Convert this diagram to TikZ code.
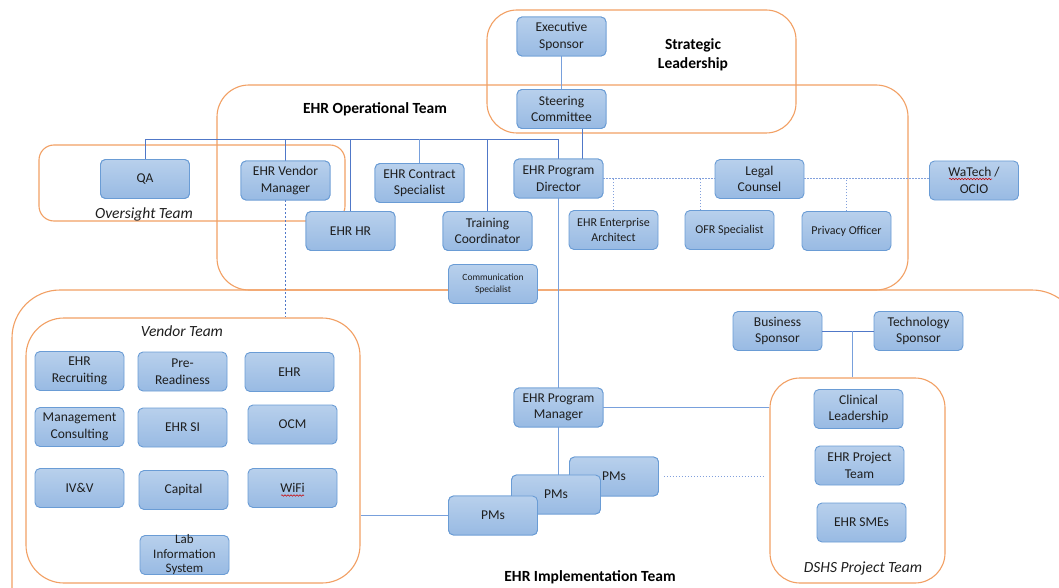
\documentclass[tikz,border=0pt]{standalone}
\usepackage{fontspec}
\setmainfont{Carlito}
\usetikzlibrary{decorations.pathmorphing}
\definecolor{boxtop}{RGB}{184,208,236}
\definecolor{boxbot}{RGB}{152,186,227}
\definecolor{boxline}{RGB}{106,156,213}
\definecolor{orng}{RGB}{242,160,100}
\definecolor{conn}{RGB}{80,120,200}
\definecolor{connl}{RGB}{120,160,220}
\definecolor{dotc}{RGB}{130,160,220}
\definecolor{txt}{RGB}{30,30,30}
\begin{document}
\begin{tikzpicture}[x=1pt,y=-1pt,
  bx/.style={draw=boxline, line width=0.9pt, top color=boxtop, bottom color=boxbot,
    rounded corners=5pt, minimum width=89pt, minimum height=39pt, align=center,
    inner sep=1pt, text=txt, font=\fontsize{13.5}{16.5}\selectfont},
  bxs/.style={bx, font=\fontsize{12}{14.5}\selectfont},
  bxt/.style={bx, font=\fontsize{9.5}{12.5}\selectfont},
  cont/.style={draw=orng, line width=1.1pt, inner sep=0pt},
  solidc/.style={draw=conn, line width=0.9pt},
  solidl/.style={draw=connl, line width=1pt},
  dotl/.style={draw=dotc, line width=1pt, dash pattern=on 1.5pt off 1.5pt},
  dashl/.style={draw=conn, line width=0.8pt, dash pattern=on 2pt off 2pt},
  blab/.style={font=\fontsize{15.5}{19}\selectfont\bfseries, align=center, text=black},
  ilab/.style={font=\fontsize{15.5}{18}\selectfont\itshape, text=txt},
  squig/.style={draw=red!80!black, line width=0.5pt, decorate,
    decoration={snake, amplitude=0.8pt, segment length=3pt}}
]
\useasboundingbox (0,0) rectangle (1059,588);
\fill[white] (0,0) rectangle (1059,588);

% containers
\node[cont, rounded corners=48pt, minimum width=1068pt, minimum height=350pt] (impl) at (546,465) {};
\node[cont, rounded corners=32pt, minimum width=691pt, minimum height=205pt] (oper) at (562.5,187.5) {};
\node[cont, rounded corners=30pt, minimum width=309pt, minimum height=123pt] (strat) at (641.5,71.5) {};
\node[cont, rounded corners=15pt, minimum width=306pt, minimum height=76pt] (overs) at (192,183) {};
\node[cont, rounded corners=38pt, minimum width=334pt, minimum height=265pt] (vendc) at (193,450.5) {};
\node[cont, rounded corners=30pt, minimum width=175pt, minimum height=205pt] (dshs) at (857.5,480.5) {};

% coordinates for connectors
\coordinate (sc) at (582,0);
\coordinate (ofrx) at (700,0);
\coordinate (bt) at (852,331);

% boxes
\node[bx] (exec) at (561.5,36.5) {Executive\\Sponsor};
\node[bx] (steer) at (561.5,109) {Steering\\Committee};
\node[bx] (director) at (558.5,178.5) {EHR Program\\Director};
\node[bx] (qa) at (145,179) {QA};
\node[bx] (vman) at (285.5,180.5) {EHR Vendor\\Manager};
\node[bx] (contract) at (419.5,183) {EHR Contract\\Specialist};
\node[bx] (hr) at (350.5,231) {EHR HR};
\node[bx] (train) at (487.5,231) {Training\\Coordinator};
\node[bxs] (ea) at (613.5,230) {EHR Enterprise\\Architect};
\node[bx] (legal) at (759.5,179) {Legal\\Counsel};
\node[bxs] (ofr) at (729.5,230) {OFR Specialist};
\node[bxs] (privacy) at (846.5,231) {Privacy Officer};
\node[bx] (watech) at (974,180.5) {WaTech /\\OCIO};
\node[bxt] (comm) at (493,284) {Communication\\Specialist};
\node[bx] (recruit) at (79.5,371) {EHR\\Recruiting};
\node[bx] (preread) at (182.5,371.5) {Pre-\\Readiness};
\node[bx] (ehr) at (289.5,372) {EHR};
\node[bx] (mgmt) at (79.5,427) {Management\\Consulting};
\node[bx] (si) at (182.5,427.5) {EHR SI};
\node[bx] (ocm) at (292.5,424.5) {OCM};
\node[bx] (ivv) at (79.5,488) {IV\&V};
\node[bx] (capital) at (183.5,490) {Capital};
\node[bx] (wifi) at (292.5,488) {WiFi};
\node[bx] (lab) at (184.5,555) {};
\node[font=\fontsize{13}{14.5}\selectfont, align=center, text=txt] (labt) at (lab) {Lab\\Information\\System};
\node[bx] (pgm) at (558.5,407.5) {EHR Program\\Manager};
\node[bx] (bus) at (777.5,331) {Business\\Sponsor};
\node[bx] (tech) at (918.5,331) {Technology\\Sponsor};
\node[bx] (clin) at (858.5,409) {Clinical\\Leadership};
\node[bx] (ehrpt) at (859.5,465.5) {EHR Project\\Team};
\node[bx] (smes) at (861.5,522.5) {EHR SMEs};

% connectors
\draw[solidl] (exec) -- (steer);
\draw[solidc] (sc |- steer.south) -- (sc |- director.north);
\draw[solidc] (qa.north) -- (qa.north |- 0,139) -| (director.north);
\draw[solidc] (vman.north) -- (vman.north |- 0,139);
\draw[solidc] (hr.north) -- (hr.north |- 0,139);
\draw[solidl] (contract.north) -- (contract.north |- 0,139);
\draw[solidc] (train.north) -- (train.north |- 0,139);
\draw[solidl] (director.south) -- (pgm.north);
\draw[dotl] (director.east) -- (director.east -| legal.west);
\draw[dotl] (ea.north) -- (ea.north |- director.east);
\draw[dotl] (ofrx |- ofr.north) -- (ofrx |- director.east);
\draw[dotl] (legal.east) -- (legal.east -| watech.west);
\draw[dotl] (privacy.north) -- (privacy.north |- legal.east);
\draw[dashl] (vman.south) -- (vman.south |- vendc.north);
\draw[solidc] (bus.east) -- (tech.west);
\draw[solidl] (bt) -- (bt |- dshs.north);
\draw[solidl] (pgm.east) -- (pgm.east -| dshs.west);

% PMs stack
\node[bx] (pms3) at (614,476.5) {PMs};
\node[bx] (pms2) at (556,494.5) {PMs};
\node[bx] (pms1) at (493,515.5) {PMs};
\draw[solidl] (pgm.south) -- (pgm.south |- pms2.north);
\draw[solidl] (pms1.west) -- (pms1.west -| vendc.east);
\draw[dotl, shorten <=5pt, shorten >=4pt] (pms3.east) -- (pms3.east -| dshs.west);

% redraw boxes that connectors pass over
\node[bx] at (561.5,36.5) {Executive\\Sponsor};
\node[bx] at (561.5,109) {Steering\\Committee};
\node[bx] at (558.5,178.5) {EHR Program\\Director};
\node[bx] at (145,179) {QA};
\node[bx] at (285.5,180.5) {EHR Vendor\\Manager};
\node[bx] at (419.5,183) {EHR Contract\\Specialist};
\node[bx] at (350.5,231) {EHR HR};
\node[bx] at (487.5,231) {Training\\Coordinator};
\node[bx] at (558.5,407.5) {EHR Program\\Manager};
\node[bx] at (614,476.5) {PMs};
\node[bx] at (556,494.5) {PMs};
\node[bx] at (493,515.5) {PMs};

% labels
\node[blab] (lstrat) at (693,55) {Strategic\\Leadership};
\node[blab] (loper) at (375,109) {EHR Operational Team};
\node[blab] (limpl) at (590,577) {EHR Implementation Team};
\node[ilab] (lovers) at (144,214) {Oversight Team};
\node[ilab] (lvend) at (182,331) {Vendor Team};
\node[ilab] (ldshs) at (863,568) {DSHS Project Team};

% spell-check squiggles
\draw[squig] (949,179) -- (992,179);
\draw[squig] (281,495.5) -- (304,495.5);
\end{tikzpicture}
\end{document}
